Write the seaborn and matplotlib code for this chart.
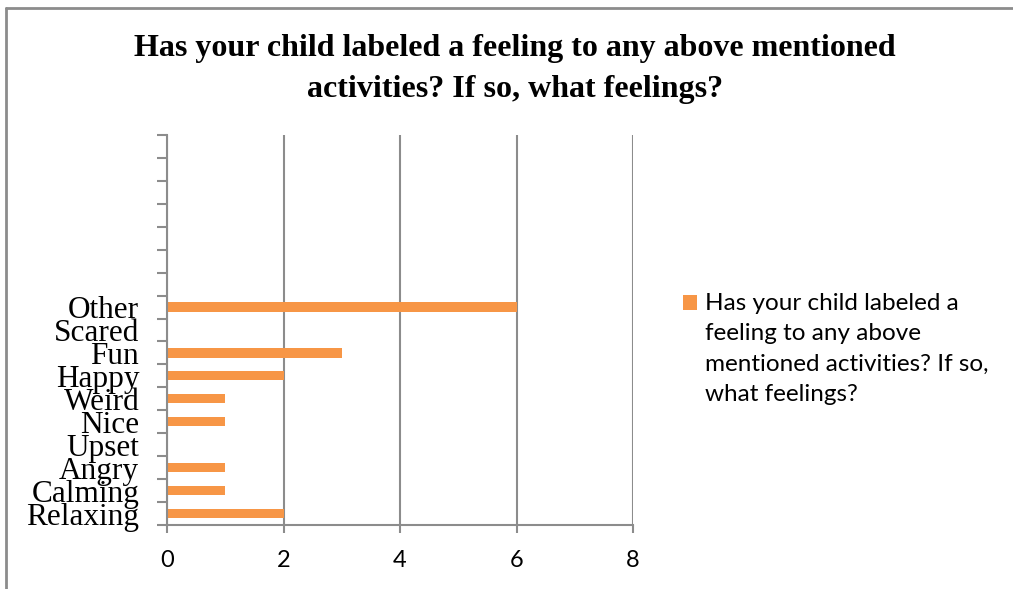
import matplotlib
matplotlib.use("Agg")
import matplotlib.pyplot as plt
import matplotlib.patches as mpatches
from matplotlib.legend_handler import HandlerPatch
from matplotlib.lines import Line2D
import seaborn as sns
import pandas as pd
import numpy as np

# ---- data (top slot first) ----
categories = ["b1", "b2", "b3", "b4", "b5", "b6", "b7",
              "Other", "Scared", "Fun", "Happy", "Weird", "Nice",
              "Upset", "Angry", "Calming", "Relaxing"]
tick_labels = ["", "", "", "", "", "", "",
               "Other", "Scared", "Fun", "Happy", "Weird", "Nice",
               "Upset", "Angry", "Calming", "Relaxing"]
values = [0, 0, 0, 0, 0, 0, 0,
          6, 0, 3, 2, 1, 1, 0, 1, 1, 2]
legend_label = "Has your child labeled a\nfeeling to any above\nmentioned activities? If so,\nwhat feelings?"
title_text = "Has your child labeled a feeling to any above mentioned\nactivities? If so, what feelings?"
x_ticks = [0, 2, 4, 6, 8]

df = pd.DataFrame({"feeling": categories, "count": values})

sns.set_theme(style="white")
plt.rcParams['font.family'] = ['Liberation Serif', 'DejaVu Sans']
plt.rcParams['text.color'] = 'black'

W, H = 1013, 589
fig = plt.figure(figsize=(W / 100, H / 100), dpi=100)
ax = fig.add_axes([167 / W, 1 - 525 / H, (633 - 167) / W, (525 - 135) / H])

bar_color = "#F79646"
sns.barplot(data=df, y="feeling", x="count", order=categories, orient="h",
            color=bar_color, saturation=1, width=0.4, ax=ax,
            label=legend_label, edgecolor="none")
if ax.get_legend() is not None:
    ax.get_legend().remove()

ax.set_xlim(0, 8)
ax.set_ylim(len(categories) - 0.5, -0.5)
ax.set_xlabel("")
ax.set_ylabel("")

grid_c = "#8c8c8c"
ax.set_xticks(x_ticks)
ax.set_xticklabels([str(t) for t in x_ticks], family=["Lato", "DejaVu Sans"], fontsize=17)
ax.xaxis.grid(True, color=grid_c, linewidth=1.5)
ax.yaxis.grid(False)
ax.set_axisbelow(True)

ax.set_yticks(np.arange(len(categories)))
ax.set_yticklabels(tick_labels, fontsize=22.5, family=["Liberation Serif"])
ax.set_yticks(np.arange(len(categories) + 1) - 0.5, minor=True)
ax.tick_params(axis="y", which="major", length=0, pad=20, colors="black")
ax.tick_params(axis="y", which="minor", length=7, width=1.5, color=grid_c, direction="out", left=True)
ax.tick_params(axis="x", which="major", length=6, width=1.5, color=grid_c, direction="out", bottom=True, pad=12, labelcolor="black")

for s in ["top", "right"]:
    ax.spines[s].set_visible(False)
for s in ["left", "bottom"]:
    ax.spines[s].set_color(grid_c)
    ax.spines[s].set_linewidth(1.5)

# title
fig.text(0.508, 1 - 34 / H, title_text, ha="center", va="top", color="black",
         fontsize=23, fontweight="bold", family=["Liberation Serif"], linespacing=1.55)

# legend
leg_fs = 17.5
nlines = legend_label.count("\n") + 1
lsp = 1.55

def patch_func(legend, orig_handle, xdescent, ydescent, width, height, fontsize):
    shift = (nlines - 1) / 2 * lsp * fontsize * 0.82
    return mpatches.Rectangle((-xdescent, -ydescent + shift), width, height)

container = ax.containers[0]
handle = container.patches[7]
leg = fig.legend([handle], [container.get_label()], loc="upper left",
                 bbox_to_anchor=(683 / W, 1 - 293 / H), frameon=False,
                 prop={"family": ["Lato", "DejaVu Sans"], "size": leg_fs},
                 borderpad=0, borderaxespad=0, handlelength=0.57, handleheight=0.57,
                 handletextpad=0.33,
                 handler_map={mpatches.Rectangle: HandlerPatch(patch_func=patch_func)})
for t in leg.get_texts():
    t.set_linespacing(lsp)
    t.set_color("black")

# outer frame (top and left edges visible)
fig.add_artist(Line2D([6 / W, 6 / W], [0, 1 - 8 / H], transform=fig.transFigure, color="#8c8c8c", lw=2))
fig.add_artist(Line2D([6 / W, 1], [1 - 8 / H, 1 - 8 / H], transform=fig.transFigure, color="#8c8c8c", lw=2))

fig.savefig("out.png", dpi=100)
